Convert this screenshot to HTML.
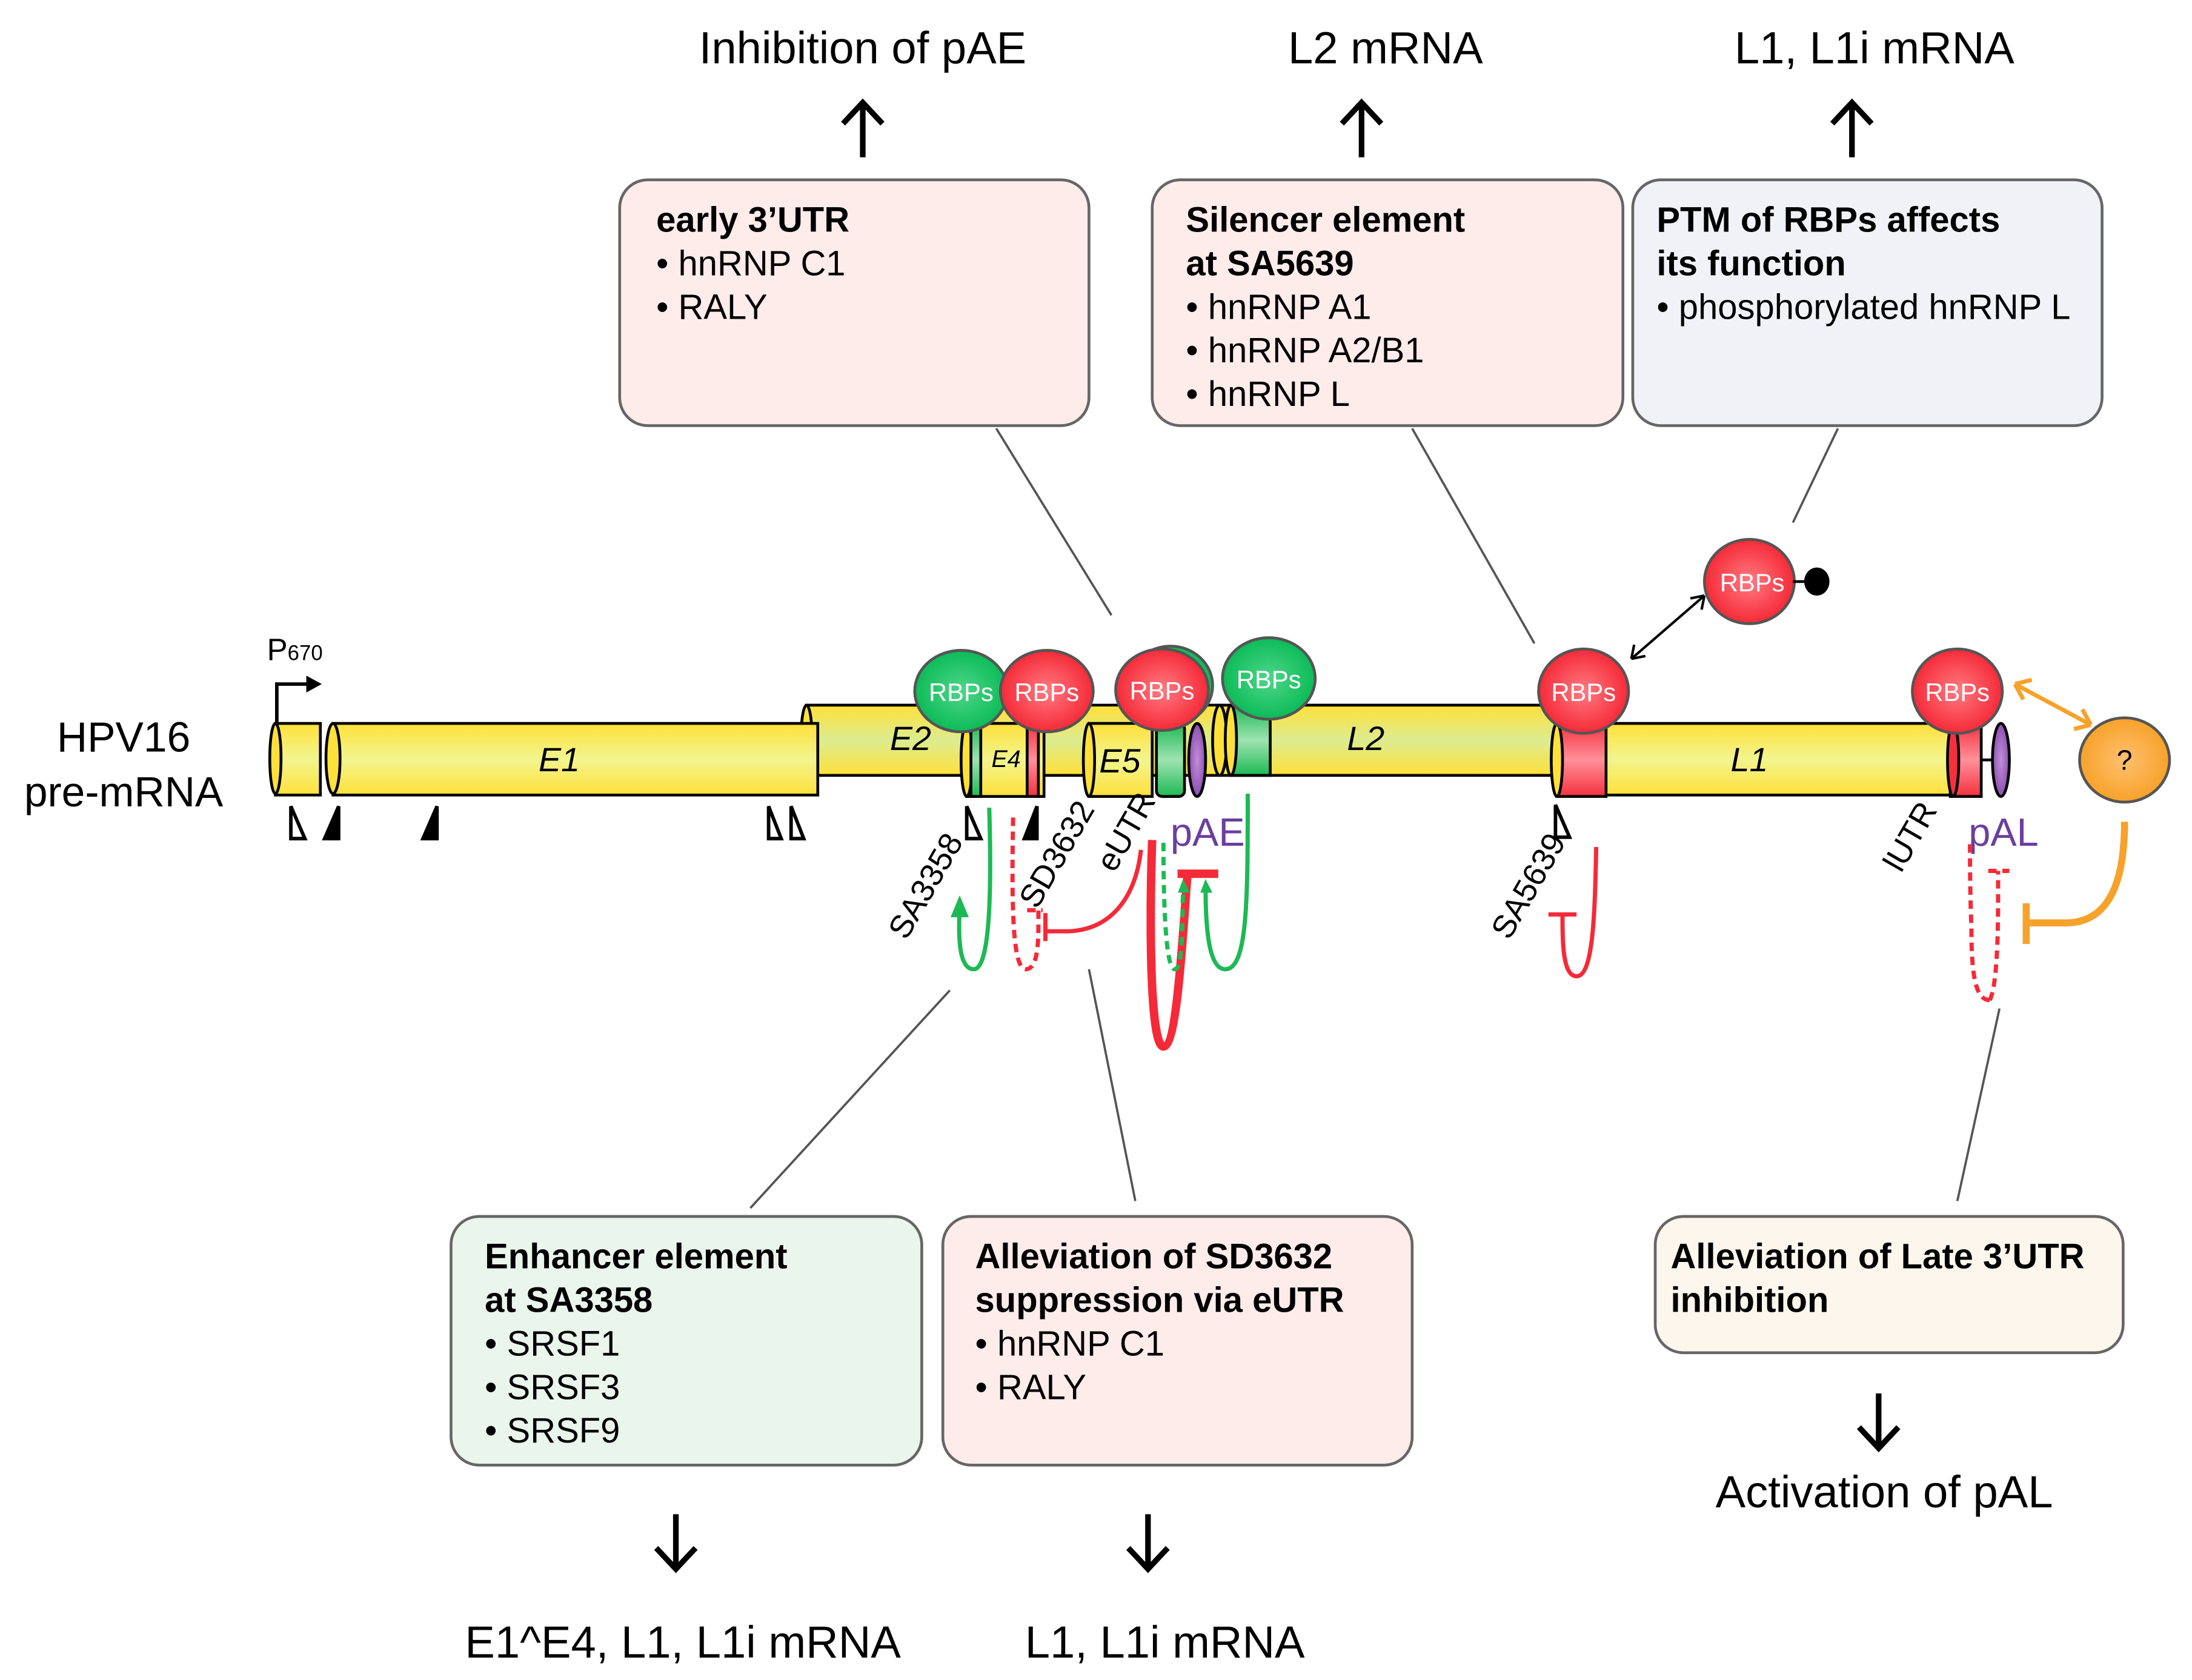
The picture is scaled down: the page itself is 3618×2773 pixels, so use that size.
<!DOCTYPE html>
<html><head><meta charset="utf-8"><style>html,body{margin:0;padding:0;background:#fff}svg{display:block}</style></head>
<body>
<svg width="3618" height="2773" viewBox="0 0 1560 1196" preserveAspectRatio="none" xmlns="http://www.w3.org/2000/svg" font-family="Liberation Sans, sans-serif">
<defs>
<linearGradient id="y1" x1="0" y1="0" x2="0" y2="1"><stop offset="0" stop-color="#ffe03a"/><stop offset="0.5" stop-color="#f2f58e"/><stop offset="1" stop-color="#ffe03a"/></linearGradient>
<linearGradient id="y2" x1="0" y1="0" x2="0" y2="1"><stop offset="0" stop-color="#ffe03a"/><stop offset="0.5" stop-color="#dcec90"/><stop offset="1" stop-color="#ffe03a"/></linearGradient>
<linearGradient id="gb" x1="0" y1="0" x2="0" y2="1"><stop offset="0" stop-color="#1db954"/><stop offset="0.5" stop-color="#9ee3b0"/><stop offset="1" stop-color="#1db954"/></linearGradient>
<linearGradient id="rb" x1="0" y1="0" x2="0" y2="1"><stop offset="0" stop-color="#f5303e"/><stop offset="0.5" stop-color="#ff909a"/><stop offset="1" stop-color="#f5303e"/></linearGradient>
<radialGradient id="rr"><stop offset="0" stop-color="#ff7b82"/><stop offset="1" stop-color="#f52a38"/></radialGradient>
<radialGradient id="gr"><stop offset="0" stop-color="#4fd68a"/><stop offset="1" stop-color="#0cbb57"/></radialGradient>
<radialGradient id="or"><stop offset="0" stop-color="#ffc070"/><stop offset="1" stop-color="#f7a22a"/></radialGradient>
<radialGradient id="pr"><stop offset="0" stop-color="#c08fd6"/><stop offset="1" stop-color="#8e4fb3"/></radialGradient>
</defs>

<rect x="441" y="128" width="334" height="175" rx="20" fill="#fdecea" stroke="#666" stroke-width="2"/>
<rect x="820" y="128" width="335" height="175" rx="20" fill="#fdecea" stroke="#666" stroke-width="2"/>
<rect x="1162" y="128" width="334" height="175" rx="20" fill="#f1f2f8" stroke="#666" stroke-width="2"/>
<g font-size="25" fill="#000">
<text x="467" y="165" font-weight="bold">early 3’UTR</text>
<text x="467" y="196">• hnRNP C1</text>
<text x="467" y="227">• RALY</text>
<text x="844" y="165" font-weight="bold">Silencer element</text>
<text x="844" y="196" font-weight="bold">at SA5639</text>
<text x="844" y="227">• hnRNP A1</text>
<text x="844" y="258">• hnRNP A2/B1</text>
<text x="844" y="289">• hnRNP L</text>
<text x="1179" y="165" font-weight="bold">PTM of RBPs affects</text>
<text x="1179" y="196" font-weight="bold">its function</text>
<text x="1179" y="227">• phosphorylated hnRNP L</text>
</g>
<rect x="321" y="866" width="335" height="177" rx="20" fill="#eaf5ec" stroke="#666" stroke-width="2"/>
<rect x="671" y="866" width="334" height="177" rx="20" fill="#fdecea" stroke="#666" stroke-width="2"/>
<rect x="1178" y="866" width="333" height="97" rx="20" fill="#fdf6ec" stroke="#666" stroke-width="2"/>
<g font-size="25" fill="#000">
<text x="345" y="903" font-weight="bold">Enhancer element</text>
<text x="345" y="934" font-weight="bold">at SA3358</text>
<text x="345" y="965">• SRSF1</text>
<text x="345" y="996">• SRSF3</text>
<text x="345" y="1027">• SRSF9</text>
<text x="694" y="903" font-weight="bold">Alleviation of SD3632</text>
<text x="694" y="934" font-weight="bold">suppression via eUTR</text>
<text x="694" y="965">• hnRNP C1</text>
<text x="694" y="996">• RALY</text>
<text x="1189" y="903" font-weight="bold">Alleviation of Late 3’UTR</text>
<text x="1189" y="934" font-weight="bold">inhibition</text>
</g>

<g font-size="32" fill="#000" text-anchor="middle">
<text x="614" y="45">Inhibition of pAE</text>
<text x="986" y="45">L2 mRNA</text>
<text x="1334" y="45">L1, L1i mRNA</text>
<text x="486" y="1180">E1^E4, L1, L1i mRNA</text>
<text x="829" y="1180">L1, L1i mRNA</text>
<text x="1341" y="1073">Activation of pAL</text>
</g>
<g stroke="#000" stroke-width="4" fill="none">
<path d="M614 112V74M600 88L614 73L628 88"/>
<path d="M969 112V74M955 88L969 73L983 88"/>
<path d="M1318 112V74M1304 88L1318 73L1332 88"/>
<path d="M481 1078V1116M467 1102L481 1117L495 1102"/>
<path d="M817 1078V1116M803 1102L817 1117L831 1102"/>
<path d="M1337 992V1030M1323 1016L1337 1031L1351 1016"/>
</g>
<g stroke="#555" stroke-width="1.6">
<line x1="709" y1="305" x2="791" y2="438"/>
<line x1="1005" y1="305" x2="1092" y2="458"/>
<line x1="1308" y1="305" x2="1276" y2="372"/>
<line x1="534" y1="860" x2="676" y2="705"/>
<line x1="775" y1="690" x2="808" y2="855"/>
<line x1="1423" y1="718" x2="1393" y2="855"/>
</g>

<text x="88" y="535" font-size="30" text-anchor="middle">HPV16</text>
<text x="88" y="574" font-size="30" text-anchor="middle">pre-mRNA</text>
<text x="190" y="470" font-size="22">P<tspan font-size="15">670</tspan></text>
<path d="M197 538V487H220" stroke="#000" stroke-width="2.5" fill="none"/>
<path d="M218 481L229 487L218 493Z" fill="#000"/>

<g stroke="#000" stroke-width="2">
<rect x="574" y="502" width="130" height="50" fill="url(#y2)"/>
<ellipse cx="574" cy="527" rx="4" ry="25" fill="#ffe03a"/>
<rect x="868" y="502" width="240" height="50" fill="url(#y2)"/>
<line x1="704" y1="502" x2="868" y2="502"/>
<line x1="704" y1="552" x2="868" y2="552"/>
<rect x="704" y="503" width="164" height="48" fill="url(#y2)" stroke="none"/>
<rect x="196" y="515" width="32" height="51" fill="url(#y1)"/>
<ellipse cx="196" cy="540" rx="4" ry="25" fill="#ffe03a"/>
<rect x="237" y="515" width="345" height="51" fill="url(#y1)"/>
<ellipse cx="237" cy="540" rx="5" ry="25" fill="#ffe03a"/>
<text x="398" y="549" font-size="24" font-style="italic" text-anchor="middle" stroke="none">E1</text>
<text x="648" y="534" font-size="24" font-style="italic" text-anchor="middle" stroke="none">E2</text>
<text x="972" y="534" font-size="24" font-style="italic" text-anchor="middle" stroke="none">L2</text>
<rect x="688" y="515" width="55" height="52" fill="url(#y1)"/>
<ellipse cx="688" cy="541" rx="4" ry="26" fill="#ffe03a"/>
<rect x="691" y="515" width="7" height="52" fill="url(#gb)"/>
<rect x="731" y="515" width="8" height="52" fill="url(#rb)"/>
<text x="716" y="546" font-size="17" font-style="italic" text-anchor="middle" stroke="none">E4</text>
<rect x="775" y="515" width="45" height="52" fill="url(#y1)"/>
<ellipse cx="775" cy="541" rx="4" ry="26" fill="#ffe03a"/>
<text x="797" y="550" font-size="24" font-style="italic" text-anchor="middle" stroke="none">E5</text>
<rect x="823" y="515" width="20" height="52" rx="4" fill="url(#gb)"/>
<ellipse cx="852" cy="541" rx="6" ry="26" fill="url(#pr)"/>
<ellipse cx="868" cy="527" rx="5" ry="25" fill="#ffe03a"/>
<rect x="876" y="502" width="28" height="50" fill="url(#gb)"/>
<ellipse cx="876" cy="527" rx="4" ry="25" fill="#ffe03a"/>
<rect x="1110" y="515" width="278" height="51" fill="url(#y1)"/>
<rect x="1108" y="515" width="35" height="52" fill="url(#rb)"/>
<ellipse cx="1108" cy="541" rx="4" ry="26" fill="#ffe03a"/>
<text x="1245" y="549" font-size="24" font-style="italic" text-anchor="middle" stroke="none">L1</text>
<rect x="1388" y="515" width="22" height="52" fill="url(#rb)"/>
<ellipse cx="1390" cy="541" rx="4" ry="26" fill="#f5303e"/>
<line x1="1410" y1="541" x2="1418" y2="541"/>
<ellipse cx="1424" cy="541" rx="6" ry="26" fill="url(#pr)"/>
</g>

<g stroke="#000" stroke-width="2.5">
<path d="M207 574L217 597H207Z" fill="#fff"/>
<path d="M241 574L231 597H241Z" fill="#000"/>
<path d="M311 574L301 597H311Z" fill="#000"/>
<path d="M547 574L556 597H547Z" fill="#fff"/>
<path d="M563 574L572 597H563Z" fill="#fff"/>
<path d="M688 574L698 597H688Z" fill="#fff"/>
<path d="M738 574L729 597H738Z" fill="#000"/>
<path d="M1107 573L1117 596H1107Z" fill="#fff"/>
</g>

<g stroke="#555" stroke-width="2">
<ellipse cx="684" cy="492" rx="33" ry="29" fill="url(#gr)"/>
<ellipse cx="745" cy="492" rx="33" ry="29" fill="url(#rr)"/>
<ellipse cx="833" cy="488" rx="30" ry="28" fill="url(#gr)"/>
<ellipse cx="827" cy="491" rx="33" ry="29" fill="url(#rr)"/>
<ellipse cx="903" cy="483" rx="33" ry="29" fill="url(#gr)"/>
<ellipse cx="1127" cy="492" rx="32" ry="30" fill="url(#rr)"/>
<ellipse cx="1393" cy="492" rx="32" ry="30" fill="url(#rr)"/>
<ellipse cx="1245" cy="414" rx="32" ry="30" fill="url(#rr)"/>
<ellipse cx="1512" cy="541" rx="32" ry="30" fill="url(#or)"/>
</g>
<line x1="1276" y1="414" x2="1288" y2="414" stroke="#000" stroke-width="2"/>
<ellipse cx="1293" cy="414" rx="9" ry="10" fill="#000"/>
<g fill="#fff" font-size="18" text-anchor="middle">
<text x="684" y="499">RBPs</text><text x="745" y="499">RBPs</text><text x="827" y="498">RBPs</text>
<text x="903" y="490">RBPs</text><text x="1127" y="499">RBPs</text><text x="1393" y="499">RBPs</text><text x="1247" y="421">RBPs</text>
</g>
<text x="1512" y="548" font-size="20" text-anchor="middle">?</text>

<g fill="none" stroke-width="1.8">
<path d="M1161 469L1213 424M1161 469L1163 459M1161 469L1171 467M1213 424L1203 426M1213 424L1211 434" stroke="#000"/>
<path d="M1434 487L1488 516M1434 487L1440 498M1434 487L1446 484M1488 516L1476 519M1488 516L1482 505" stroke="#f7a22a" stroke-width="3"/>
</g>

<g font-size="23">
<text transform="translate(645,670) rotate(-60)">SA3358</text>
<text transform="translate(738,648) rotate(-60)">SD3632</text>
<text transform="translate(793,622) rotate(-60)">eUTR</text>
<text transform="translate(1074,670) rotate(-60)">SA5639</text>
<text transform="translate(1353,622) rotate(-60)">lUTR</text>
</g>
<text x="833" y="602" font-size="28" fill="#6b3fa0">pAE</text>
<text x="1401" y="602" font-size="28" fill="#6b3fa0">pAL</text>

<g fill="none" stroke-linecap="butt">
<path d="M704 575C706 640 704 690 693 690C682 690 682 665 683 647" stroke="#1db954" stroke-width="3"/>
<path d="M678 652L683 640L688 652Z" fill="#1db954" stroke="#1db954" stroke-width="2"/>
<path d="M721 582C720 640 720 690 730 690C740 690 739 665 739 648M731 648H742" stroke="#f52a38" stroke-width="3" stroke-dasharray="6 4"/>
<path d="M744 650V670M745 663H760C790 662 808 640 812 605" stroke="#f52a38" stroke-width="3"/>
<path d="M820 598C818 650 818 745 828 745C838 745 842 660 845 624" stroke="#f52a38" stroke-width="6"/>
<path d="M838 622H867" stroke="#f52a38" stroke-width="6"/>
<path d="M828 600C828 650 830 690 836 690C842 690 841 660 842 632" stroke="#1db954" stroke-width="3" stroke-dasharray="6 4"/>
<path d="M839 635L842 627L846 635Z" fill="#1db954" stroke="#1db954"/>
<path d="M888 565C888 640 888 690 872 690C860 690 858 660 858 632" stroke="#1db954" stroke-width="3"/>
<path d="M855 635L858 627L862 635Z" fill="#1db954" stroke="#1db954"/>
<path d="M1136 603C1135 650 1134 695 1122 695C1112 695 1112 670 1112 651M1102 651H1122" stroke="#f52a38" stroke-width="3"/>
<path d="M1416 712C1405 712 1403 690 1403 660C1402 635 1402 612 1402 600" stroke="#f52a38" stroke-width="3" stroke-dasharray="6 4"/>
<path d="M1416 712C1420 705 1422 680 1422 640V620M1415 620H1430" stroke="#f52a38" stroke-width="3" stroke-dasharray="6 4"/>
<path d="M1512 585C1512 630 1500 657 1470 657H1442M1442 643V672" stroke="#f7a22a" stroke-width="5"/>
</g>
</svg>
</body></html>
